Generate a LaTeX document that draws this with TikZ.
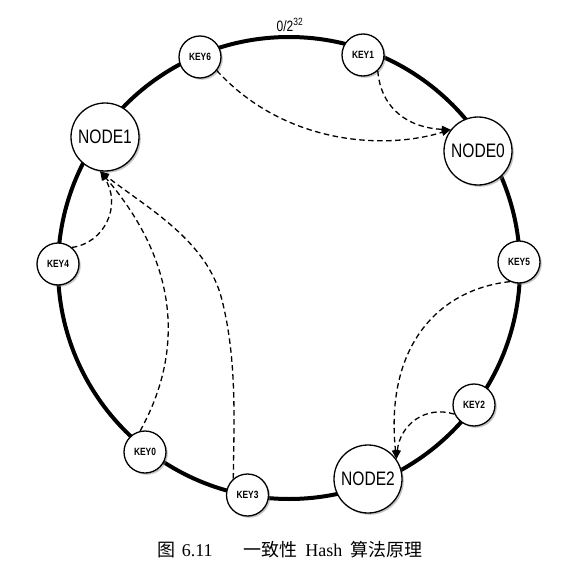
\documentclass[tikz,border=0pt]{standalone}
\usepackage{fontspec}
\setmainfont{Liberation Serif}
\newfontfamily\narrowsans[FakeStretch=0.8]{Liberation Sans}
\newfontfamily\cjk{Noto Sans CJK SC}
\usetikzlibrary{arrows.meta,shadows}
\begin{document}
\begin{tikzpicture}[x=1pt,y=-1pt,
  keynode/.style={circle,draw=black,line width=1.3pt,fill=white,minimum size=42pt,inner sep=0pt,
    font=\narrowsans\bfseries\fontsize{10.5}{10.5}\selectfont,
    drop shadow={shadow xshift=1.8pt,shadow yshift=-1.8pt,opacity=0.45}},
  bignode/.style={keynode,minimum size=68pt,font=\narrowsans\fontsize{19.5}{19.5}\selectfont},
  ring/.style={line width=4pt},
  link/.style={dash pattern=on 5.5pt off 3.5pt, line width=1.3pt, -{Triangle[length=9pt,width=7pt]}}
]
\useasboundingbox (0,0) rectangle (570,575);
\draw[ring] (289,268) circle[radius=231];
\node[font=\narrowsans\fontsize{15}{15}\selectfont] (zero) at (290,25) {0/2\textsuperscript{32}};

\node[keynode] (KEY6) at (200,57) {KEY6};
\node[keynode] (KEY1) at (363,55) {KEY1};
\node[bignode] (NODE1) at (105,137) {NODE1};
\node[bignode] (NODE0) at (478,151) {NODE0};
\node[keynode] (KEY4) at (58,264) {KEY4};
\node[keynode] (KEY5) at (519,262) {KEY5};
\node[keynode] (KEY2) at (474,405) {KEY2};
\node[bignode] (NODE2) at (368,479) {NODE2};
\node[keynode] (KEY3) at (247.5,495) {KEY3};
\node[keynode] (KEY0) at (145,452) {KEY0};

\draw[link] (KEY6.-39) .. controls (285,145) and (385,150) .. (NODE0.142);
\draw[link] (KEY1.-47) .. controls (381,110) and (410,128) .. (NODE0.142);
\draw[link] (KEY4.50) .. controls (105,243) and (122,205) .. (NODE1.-98);
\draw[link] (KEY0.103) .. controls (185,350) and (178,262) .. (NODE1.-98);
\draw[link] (KEY3.131) .. controls (234,420) and (237,360) .. (222,300) .. controls (207,240) and (147,208) .. (NODE1.-98);
\draw[link] (KEY5.-115) .. controls (435,290) and (385,350) .. (NODE2.35);
\draw[link] (KEY2.-155) .. controls (425,405) and (400,425) .. (NODE2.35);

\node[font=\fontsize{18}{18}\selectfont] (cap) at (290,550) {{\cjk 图}\hspace{0.35em}6.11\hspace{1.7em}{\cjk 一致性}\hspace{0.45em}Hash\hspace{0.45em}{\cjk 算法原理}};
\end{tikzpicture}
\end{document}
